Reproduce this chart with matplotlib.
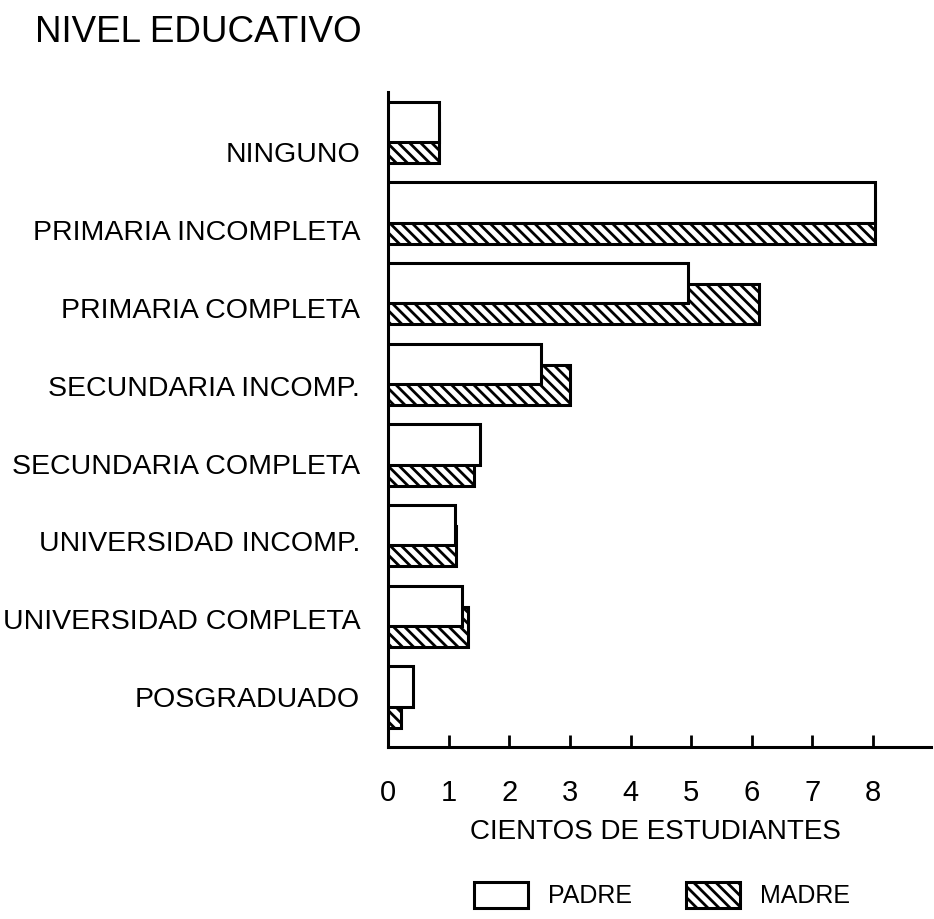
import matplotlib.pyplot as plt
import numpy as np

plt.rcParams['font.family'] = ['Liberation Sans', 'DejaVu Sans']
plt.rcParams['hatch.linewidth'] = 2.0

niveles = ['NINGUNO', 'PRIMARIA INCOMPLETA', 'PRIMARIA COMPLETA',
           'SECUNDARIA INCOMP.', 'SECUNDARIA COMPLETA', 'UNIVERSIDAD INCOMP.',
           'UNIVERSIDAD COMPLETA', 'POSGRADUADO']
padre = [0.84, 8.03, 4.94, 2.52, 1.51, 1.11, 1.22, 0.42]
madre = [0.84, 8.03, 6.12, 3.01, 1.42, 1.12, 1.32, 0.22]
ticks = [0, 1, 2, 3, 4, 5, 6, 7, 8]

fig = plt.figure(figsize=(9.34, 9.19), dpi=100)
ax = fig.add_axes([0.4154, 0.187, 0.581, 0.713])

y = np.arange(len(niveles))
alto = 0.5
desp = 0.13

# madre debajo, padre encima (relleno blanco tapa la parte de madre)
b_madre = ax.barh(y + desp, madre, height=alto, color='white', edgecolor='black',
                  linewidth=2.2, hatch='\\\\\\', zorder=2)
b_padre = ax.barh(y - desp, padre, height=alto, color='white', edgecolor='black',
                  linewidth=2.2, zorder=3)

# en el original las etiquetas no quedan exactamente centradas en cada grupo
pos_etiquetas = np.linspace(0.25, 7.0, len(niveles))

ax.set_ylim(7.62, -0.5)
ax.set_xlim(0, 8.95)
ax.set_yticks(pos_etiquetas)
ax.set_yticklabels(niveles, fontsize=20.5)
ax.set_xticks(ticks)
ax.set_xticklabels([str(t) for t in ticks], fontsize=21)
ax.tick_params(axis='y', length=0, pad=20)
ax.tick_params(axis='x', direction='in', length=9, width=2, pad=23)
for s in ['top', 'right']:
    ax.spines[s].set_visible(False)
for s in ['left', 'bottom']:
    ax.spines[s].set_linewidth(2.2)

fig.text(655 / 934, 1 - 832 / 919, 'CIENTOS DE ESTUDIANTES', fontsize=20,
         ha='center', va='center')

fig.text(35 / 934, 1 - 32 / 919, 'NIVEL EDUCATIVO', fontsize=26.5, va='center', ha='left')

fig.legend(handles=[b_padre, b_madre], labels=['PADRE', 'MADRE'], ncol=2,
           frameon=False, fontsize=18, handlelength=2.16, handleheight=1.2,
           handletextpad=0.8, columnspacing=2.15, borderpad=0, borderaxespad=0,
           loc='center', bbox_to_anchor=(662 / 934, 1 - 895 / 919))

fig.savefig('out.png', dpi=100)
